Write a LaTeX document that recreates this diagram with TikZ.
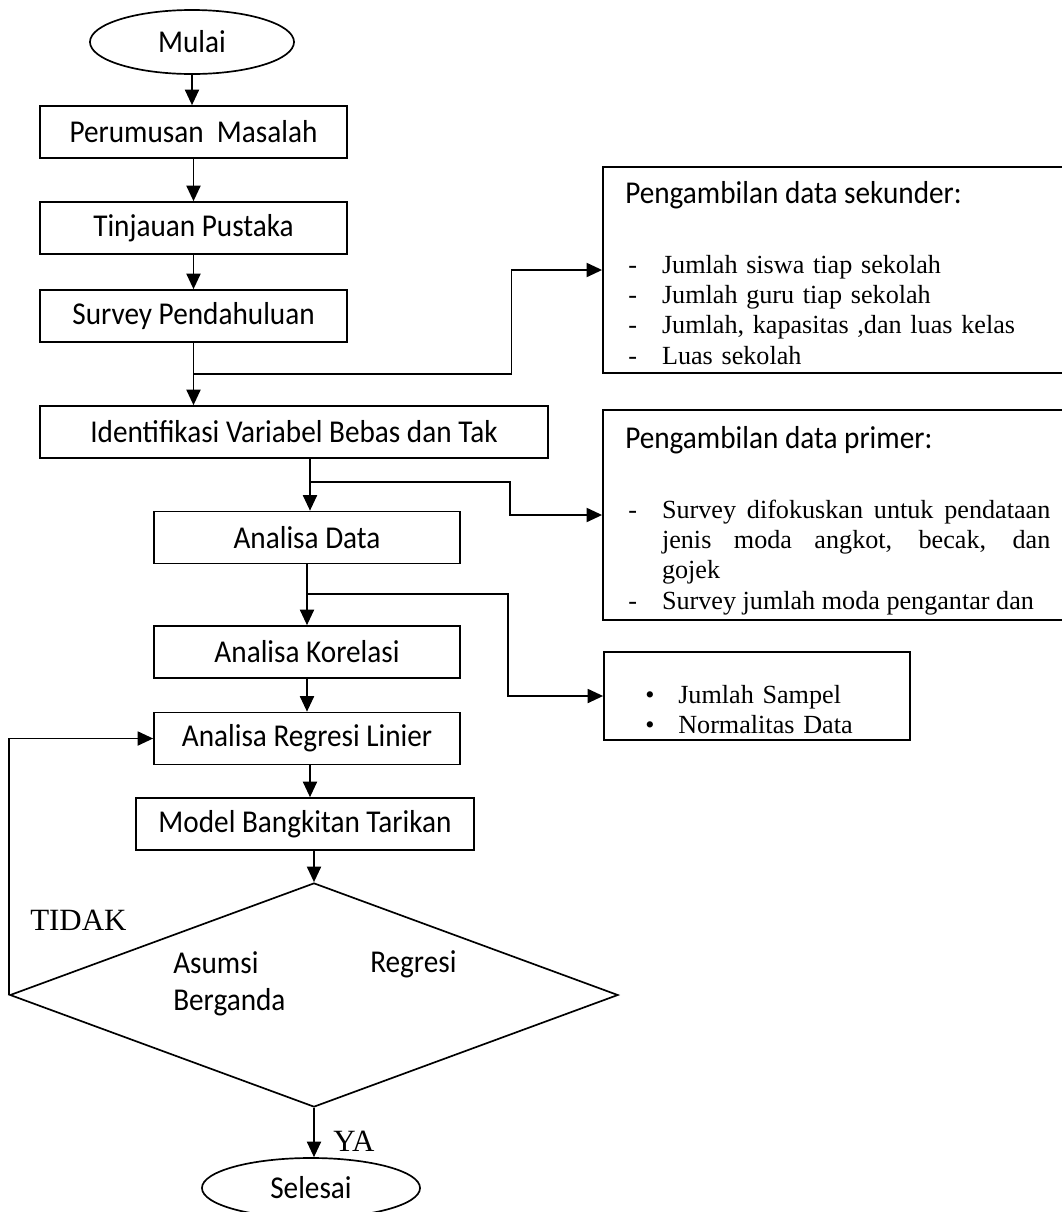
\documentclass[tikz,border=0pt]{standalone}
\usepackage{fontspec}
\setmainfont{Liberation Serif}
\newfontfamily\flowfont[FakeStretch=0.92]{Carlito}
\usetikzlibrary{shapes.geometric, arrows.meta}

\newcommand{\dashitem}[1]{\par\noindent\hangindent=24pt\makebox[24pt][l]{-}#1}
\newcommand{\dotitem}[1]{\par\noindent\makebox[23.5pt][l]{\textbullet}#1}

\tikzset{
  flowbox/.style={rectangle, draw, line width=1.2pt, inner sep=0pt, minimum height=1.3cm, font=\flowfont\fontsize{22.6}{27}\selectfont},
  terminal/.style={ellipse, draw, line width=1.2pt, inner sep=0pt, font=\flowfont\fontsize{22.6}{27}\selectfont},
  decision/.style={diamond, draw, line width=1.2pt, inner sep=0pt},
  infobox/.style={rectangle, draw, line width=1.2pt, inner sep=0pt},
  infotitle/.style={inner sep=0pt, anchor=base west, font=\flowfont\fontsize{22.6}{27}\selectfont},
  listtext/.style={inner sep=0pt, anchor=north west, text width=10.7cm, font=\fontsize{18.6}{21.5}\selectfont},
  flowtext/.style={inner sep=0pt, anchor=base west, font=\flowfont\fontsize{22.6}{27}\selectfont},
  answer/.style={inner sep=0pt, anchor=base west, font=\fontsize{22}{26}\selectfont},
  flowarrow/.style={-{Triangle[length=11pt,width=10pt]}, line width=1.2pt},
}

\begin{document}
\begin{tikzpicture}[x=0.025cm, y=-0.025cm]
  \useasboundingbox (0,0) rectangle (1062,1212);

  % Main flow
  \node[terminal, minimum width=5.1cm, minimum height=1.6cm] (mulai) at (192,42) {Mulai};
  \node[flowbox, minimum width=7.675cm] (rumusan) at (193.5,132) {Perumusan\ \ Masalah};
  \node[flowbox, minimum width=7.675cm] (pustaka) at (193.5,228) {Tinjauan Pustaka};
  \node[flowbox, minimum width=7.675cm] (survey) at (193.5,316) {Survey Pendahuluan};
  \node[flowbox, minimum width=12.7cm] (variabel) at (294,432) {Identifikasi Variabel Bebas dan Tak};
  \node[flowbox, minimum width=7.65cm] (data) at (307,537.5) {Analisa Data};
  \node[flowbox, minimum width=7.65cm] (korelasi) at (307,652) {Analisa Korelasi};
  \node[flowbox, minimum width=7.65cm] (regresi) at (307,738.5) {Analisa Regresi Linier};
  \node[flowbox, minimum width=8.45cm] (model) at (305,824) {Model Bangkitan Tarikan};
  \node[decision, minimum width=15.2cm, minimum height=5.6cm] (asumsi) at (314,995) {};
  \node[terminal, minimum width=5.45cm, minimum height=1.5cm] (selesai) at (311,1188) {Selesai};

  % Text in the decision
  \node[flowtext] (asumsiA) at (173,973) {Asumsi};
  \node[flowtext] (asumsiB) at (370,972) {Regresi};
  \node[flowtext] (asumsiC) at (173,1010) {Berganda};

  % Side boxes
  \node[infobox, minimum width=11.8cm, minimum height=5.15cm] (sekunder) at (839,270) {};
  \node[infotitle] (sekunderT) at (625,203) {Pengambilan data sekunder:};
  \node[listtext] (sekunderL) at (628,243) {%
    \dashitem{Jumlah siswa tiap sekolah}
    \dashitem{Jumlah guru tiap sekolah}
    \dashitem{Jumlah, kapasitas ,dan luas kelas}
    \dashitem{Luas sekolah}};

  \node[infobox, minimum width=11.8cm, minimum height=5.25cm] (primer) at (839,515) {};
  \node[infotitle] (primerT) at (625,448) {Pengambilan data primer:};
  \node[listtext, text width=10.55cm, align=justify] (primerL) at (628,488) {%
    \dashitem{Survey difokuskan untuk pendataan\linebreak jenis moda angkot, becak, dan\linebreak gojek}
    \dashitem{Survey jumlah moda pengantar dan}};

  \node[infobox, minimum width=7.65cm, minimum height=2.2cm] (uji) at (757,696) {};
  \node[listtext, text width=6cm] (ujiL) at (645,673) {%
    \dotitem{Jumlah Sampel}
    \dotitem{Normalitas Data}};

  % Answers
  \node[answer] (tidak) at (30,930) {TIDAK};
  \node[answer] (ya) at (333,1151) {YA};

  % Branch points
  \coordinate (j1) at (193.5,374);
  \coordinate (j2) at (310,482);
  \coordinate (j3) at (308,594);

  % Arrows
  \draw[flowarrow] (mulai.south) -- (mulai.south |- rumusan.north);
  \draw[flowarrow] (rumusan) -- (pustaka);
  \draw[flowarrow] (pustaka) -- (survey);
  \draw[flowarrow] (survey.south) -- (survey.south |- variabel.north);
  \draw[flowarrow] (j2 |- variabel.south) -- (j2 |- data.north);
  \draw[flowarrow] (data) -- (korelasi);
  \draw[flowarrow] (korelasi) -- (regresi);
  \draw[flowarrow] (j2 |- regresi.south) -- (j2 |- model.north);
  \draw[flowarrow] (asumsi.north |- model.south) -- (asumsi.north);
  \draw[flowarrow] (asumsi.south) -- (asumsi.south |- selesai.north);
  \draw[flowarrow] (asumsi.west) |- (regresi.west); % back to regression

  % Branches to the side boxes
  \draw[flowarrow] (j1) -- ++(318,0) |- (sekunder.west);
  \draw[flowarrow] (j2) -- ++(200,0) |- (primer.west);
  \draw[flowarrow] (j3) -- ++(200,0) |- (uji.west);
\end{tikzpicture}
\end{document}
